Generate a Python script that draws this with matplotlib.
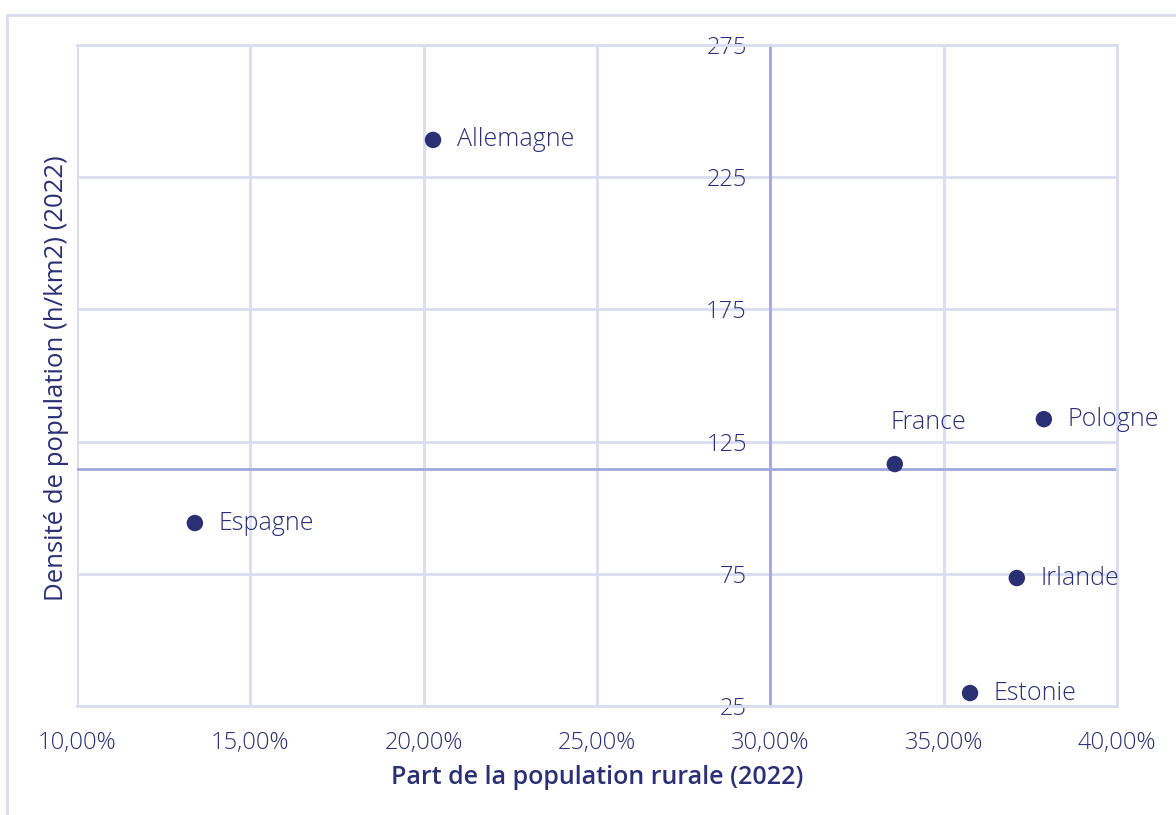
import matplotlib.pyplot as plt
from matplotlib.ticker import FuncFormatter
from matplotlib.patches import Rectangle

# Données
pays = ["Allemagne", "Espagne", "France", "Pologne", "Irlande", "Estonie"]
part_rurale = [20.27, 13.40, 33.59, 37.89, 37.11, 35.76]   # en %
densite = [239.1, 94.2, 116.5, 133.5, 73.4, 29.9]           # h/km2
moyenne_rurale = 30.0
moyenne_densite = 114.6

x_ticks = [10, 15, 20, 25, 30, 35, 40]
y_ticks = [25, 75, 125, 175, 225, 275]

navy = "#2b2f73"
grid_col = "#dadcf0"
ref_col = "#a3a7dc"

plt.rcParams['font.family'] = ['Open Sans', 'DejaVu Sans']

fig = plt.figure(figsize=(11.76, 8.15), dpi=100)
ax = fig.add_axes([77/1176, 1-706/815, 1040/1176, 661/815])

# cadre clair autour de la figure
fig.patches.append(Rectangle((7/1176, -0.1), 1.2, 0.1+1-15/815, transform=fig.transFigure,
                             fill=False, edgecolor=grid_col, linewidth=2))

ax.set_xlim(10, 40)
ax.set_ylim(25, 275)
ax.set_xticks(x_ticks)
ax.set_yticks(y_ticks)
ax.set_axisbelow(True)
ax.grid(True, color=grid_col, linewidth=2)
for s in ["top", "right", "bottom"]:
    ax.spines[s].set_color(grid_col)
    ax.spines[s].set_linewidth(2)
ax.spines["left"].set_position(("data", moyenne_rurale))
ax.spines["left"].set_visible(False)

# lignes de référence
ax.axvline(moyenne_rurale, color=ref_col, linewidth=2, zorder=2)
ax.axhline(moyenne_densite, color=ref_col, linewidth=2, zorder=2)
# bord gauche de la zone de tracé
ax.axvline(10, color=grid_col, linewidth=2, zorder=1)

ax.xaxis.set_major_formatter(FuncFormatter(lambda v, p: f"{v:.2f}".replace(".", ",") + "%"))
ax.tick_params(axis="both", length=0, labelsize=17, labelcolor=navy)
ax.tick_params(axis="x", pad=18)
ax.tick_params(axis="y", pad=17)
for lab in ax.get_xticklabels() + ax.get_yticklabels():
    lab.set_fontweight(300)
for lab in ax.get_yticklabels():
    lab.set_zorder(5)

ax.scatter(part_rurale, densite, s=140, color=navy, zorder=4, edgecolors="none")
for nom, x, y in zip(pays, part_rurale, densite):
    if nom == "France":
        ax.annotate(nom, (x, y), xytext=(-3, 30), textcoords="offset points",
                    ha="left", va="center", fontsize=18, color=navy, fontweight=300)
    else:
        ax.annotate(nom, (x, y), xytext=(17, 0), textcoords="offset points",
                    ha="left", va="center", fontsize=18, color=navy, fontweight=300)

ax.set_xlabel("Part de la population rurale (2022)", fontsize=18, color=navy,
              fontweight="semibold", labelpad=7)
fig.text(57/1176, 1-378/815, "Densité de population (h/km2) (2022)", rotation=90,
         ha="center", va="center", fontsize=18.5, color=navy)

fig.savefig("out.png", dpi=100)
